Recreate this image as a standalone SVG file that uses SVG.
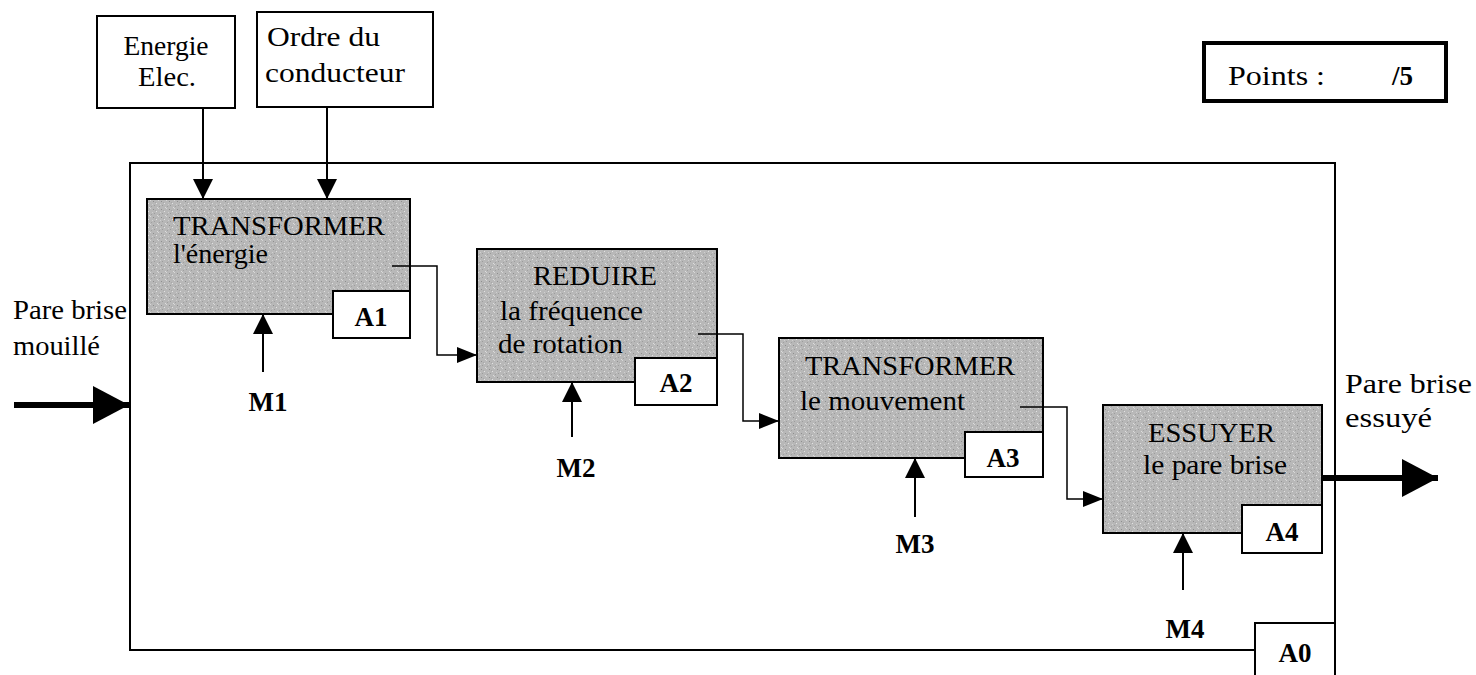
<svg xmlns="http://www.w3.org/2000/svg" width="1476" height="675" viewBox="0 0 1476 675" font-family="'Liberation Serif','Times New Roman','DejaVu Serif',serif">
<style>
text{font-family:"Liberation Serif","Times New Roman","DejaVu Serif",serif;fill:#000;font-size:27px}
.b{font-weight:bold}
.box{fill:#fff;stroke:#000;stroke-width:2}
.act{stroke:#000;stroke-width:2}
.lbl{fill:#fff;stroke:#000;stroke-width:2}
.ln{fill:none;stroke:#000;stroke-width:2}
.thin{fill:none;stroke:#000;stroke-width:1.5}
.thick{fill:none;stroke:#000;stroke-width:6}
</style>
<defs>
<marker id="ah" viewBox="0 0 20 20" markerWidth="20" markerHeight="20" refX="20" refY="10" orient="auto" markerUnits="userSpaceOnUse">
<path d="M0,0 L20,10 L0,20 Z" fill="#000"/>
</marker>
<marker id="ahs" viewBox="0 0 20 16" markerWidth="20" markerHeight="16" refX="20" refY="8" orient="auto" markerUnits="userSpaceOnUse">
<path d="M0,0 L20,8 L0,16 Z" fill="#000"/>
</marker>
<marker id="ahb" viewBox="0 0 36 38" markerWidth="36" markerHeight="38" refX="36" refY="19" orient="auto" markerUnits="userSpaceOnUse">
<path d="M0,0 L36,19 L0,38 Z" fill="#000"/>
</marker>
<pattern id="grain" width="8" height="8" patternUnits="userSpaceOnUse">
<rect width="8" height="8" fill="#b8b8b8"/>
<rect x="1" y="1" width="1" height="1" fill="#8e8e8e"/>
<rect x="4" y="3" width="1" height="1" fill="#e2e2e2"/>
<rect x="2" y="5" width="1" height="1" fill="#9c9c9c"/>
<rect x="6" y="0" width="1" height="1" fill="#d8d8d8"/>
<rect x="7" y="6" width="1" height="1" fill="#a0a0a0"/>
<rect x="5" y="7" width="1" height="1" fill="#dddddd"/>
<rect x="0" y="4" width="1" height="1" fill="#d0d0d0"/>
<rect x="3" y="2" width="1" height="1" fill="#a8a8a8"/>
</pattern>
</defs>

<g id="frame">
<polyline points="1335,623 1335,163 130,163 130,650 1255,650" fill="none" stroke="#000" stroke-width="2"/>
</g>

<g id="energie">
<rect class="box" x="97" y="16" width="138" height="92"/>
<text x="166" y="55" text-anchor="middle" textLength="85" lengthAdjust="spacingAndGlyphs">Energie</text>
<text x="167" y="86" text-anchor="middle" textLength="58" lengthAdjust="spacingAndGlyphs">Elec.</text>
</g>

<g id="ordre">
<rect class="box" x="257" y="12" width="176" height="95"/>
<text x="267" y="46" textLength="113" lengthAdjust="spacingAndGlyphs">Ordre du</text>
<text x="265" y="82" textLength="140" lengthAdjust="spacingAndGlyphs">conducteur</text>
</g>

<g id="points">
<rect x="1204" y="43" width="242" height="58" fill="#fff" stroke="#000" stroke-width="4"/>
<text x="1228" y="85" textLength="97" lengthAdjust="spacingAndGlyphs">Points :</text>
<text class="b" x="1392" y="85">/5</text>
</g>

<g id="A1">
<rect class="act" x="147" y="199" width="263" height="115" fill="url(#grain)"/>
<text x="173" y="235" textLength="212" lengthAdjust="spacingAndGlyphs">TRANSFORMER</text>
<text x="173" y="263" textLength="95" lengthAdjust="spacingAndGlyphs">l'énergie</text>
<rect class="lbl" x="333" y="291" width="77" height="47"/>
<text class="b" x="371" y="326" text-anchor="middle">A1</text>
</g>

<g id="A2">
<rect class="act" x="477" y="249" width="240" height="133" fill="url(#grain)"/>
<text x="533" y="285" textLength="124" lengthAdjust="spacingAndGlyphs">REDUIRE</text>
<text x="500" y="320" textLength="143" lengthAdjust="spacingAndGlyphs">la fréquence</text>
<text x="498" y="353" textLength="125" lengthAdjust="spacingAndGlyphs">de rotation</text>
<rect class="lbl" x="635" y="358" width="82" height="47"/>
<text class="b" x="676" y="392" text-anchor="middle">A2</text>
</g>

<g id="A3">
<rect class="act" x="779" y="338" width="264" height="120" fill="url(#grain)"/>
<text x="805" y="375" textLength="210" lengthAdjust="spacingAndGlyphs">TRANSFORMER</text>
<text x="800" y="410" textLength="165" lengthAdjust="spacingAndGlyphs">le mouvement</text>
<rect class="lbl" x="965" y="432" width="78" height="45"/>
<text class="b" x="1003" y="467" text-anchor="middle">A3</text>
</g>

<g id="A4">
<rect class="act" x="1103" y="405" width="219" height="128" fill="url(#grain)"/>
<text x="1148" y="442" textLength="127" lengthAdjust="spacingAndGlyphs">ESSUYER</text>
<text x="1143" y="474" textLength="144" lengthAdjust="spacingAndGlyphs">le pare brise</text>
<rect class="lbl" x="1242" y="505" width="80" height="48"/>
<text class="b" x="1282" y="541" text-anchor="middle">A4</text>
</g>

<g id="A0">
<rect class="lbl" x="1255" y="623" width="80" height="60"/>
<text class="b" x="1295" y="662" text-anchor="middle">A0</text>
</g>

<g id="input">
<text x="13" y="319" textLength="114" lengthAdjust="spacingAndGlyphs">Pare brise</text>
<text x="13" y="355" textLength="87" lengthAdjust="spacingAndGlyphs">mouillé</text>
</g>

<g id="output">
<text x="1345" y="393" textLength="127" lengthAdjust="spacingAndGlyphs">Pare brise</text>
<text x="1345" y="427" textLength="87" lengthAdjust="spacingAndGlyphs">essuyé</text>
</g>

<g id="mechanisms">
<text class="b" x="268" y="411" text-anchor="middle">M1</text>
<text class="b" x="576" y="477" text-anchor="middle">M2</text>
<text class="b" x="915" y="553" text-anchor="middle">M3</text>
<text class="b" x="1185" y="638" text-anchor="middle">M4</text>
</g>

<g id="connectors">
<line class="ln" x1="203" y1="108" x2="203" y2="199" marker-end="url(#ah)"/>
<line class="ln" x1="327" y1="107" x2="327" y2="199" marker-end="url(#ah)"/>
<polyline class="thin" points="392,266 437,266 437,355 477,355" marker-end="url(#ahs)"/>
<polyline class="thin" points="698,334 743,334 743,421 779,421" marker-end="url(#ahs)"/>
<polyline class="thin" points="1020,407 1067,407 1067,499 1103,499" marker-end="url(#ahs)"/>
<line class="ln" x1="263" y1="372" x2="263" y2="314" marker-end="url(#ah)"/>
<line class="ln" x1="572" y1="437" x2="572" y2="382" marker-end="url(#ah)"/>
<line class="ln" x1="915" y1="517" x2="915" y2="458" marker-end="url(#ah)"/>
<line class="ln" x1="1183" y1="590" x2="1183" y2="533" marker-end="url(#ah)"/>
<line class="thick" x1="14" y1="405" x2="129" y2="405" marker-end="url(#ahb)"/>
<line class="thick" x1="1322" y1="478" x2="1438" y2="478" marker-end="url(#ahb)"/>
</g>
</svg>
